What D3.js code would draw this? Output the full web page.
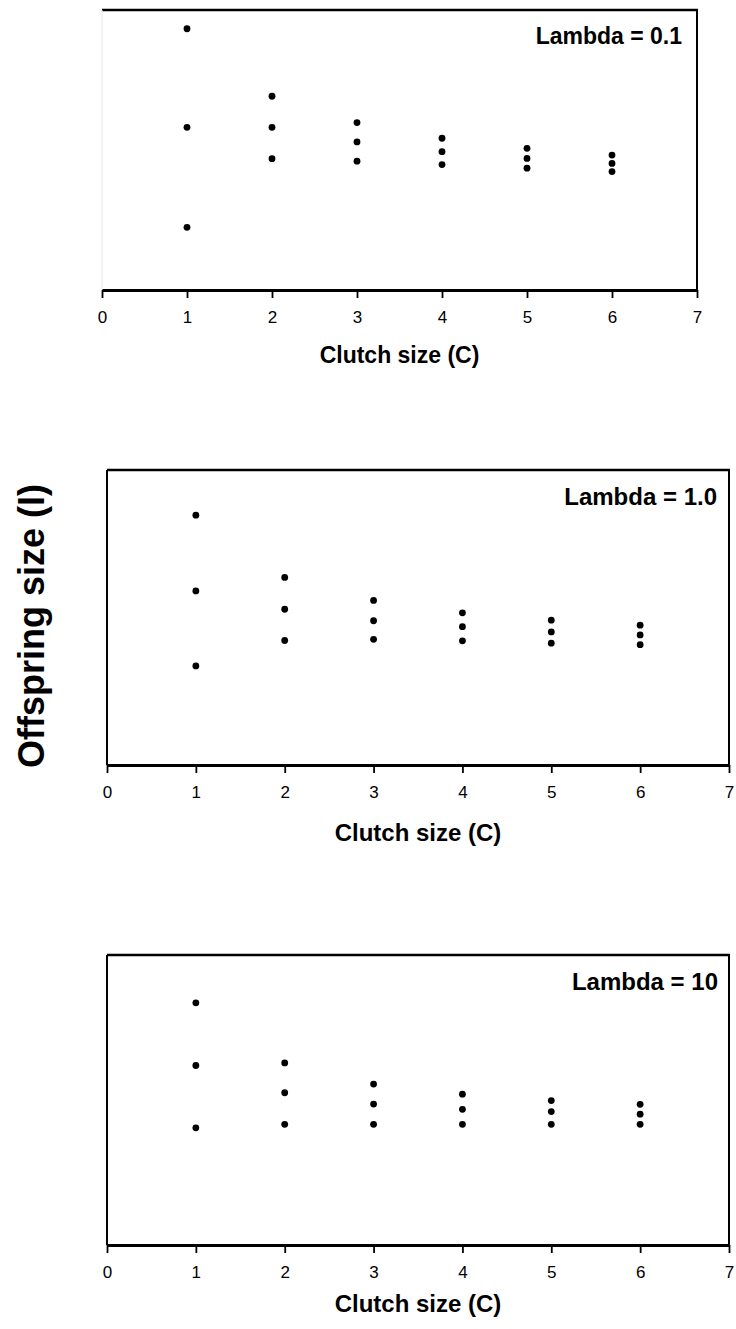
<!DOCTYPE html>
<html>
<head>
<meta charset="utf-8">
<script src="https://cdn.jsdelivr.net/npm/d3@7"></script>
<style>
    body { margin: 0; background: #fff; }
    svg text { font-family: Arial, "Liberation Sans", sans-serif; fill: #000; }
</style>
</head>
<body>
<svg id="chart" width="736" height="1329"></svg>
<script>
// clutch sizes (x) and x-axis ticks
const clutch = [1, 2, 3, 4, 5, 6];
const xTicks = [0, 1, 2, 3, 4, 5, 6, 7];

// offspring size (y axis unlabelled, 0-10 units)
const lambda01High = [9.33, 6.92, 5.98, 5.42, 5.06, 4.82];
const lambda01Mid  = [5.81, 5.81, 5.29, 4.94, 4.70, 4.52];
const lambda01Low  = [2.24, 4.69, 4.60, 4.48, 4.35, 4.23];

const lambda1High = [8.47, 6.36, 5.58, 5.16, 4.91, 4.74];
const lambda1Mid  = [5.90, 5.28, 4.89, 4.69, 4.51, 4.41];
const lambda1Low  = [3.36, 4.22, 4.26, 4.21, 4.13, 4.08];

const lambda10High = [8.35, 6.28, 5.55, 5.20, 4.98, 4.85];
const lambda10Mid  = [6.19, 5.25, 4.86, 4.68, 4.60, 4.51];
const lambda10Low  = [4.04, 4.16, 4.16, 4.16, 4.16, 4.16];

const panelLabels = ['Lambda = 0.1', 'Lambda = 1.0', 'Lambda = 10'];
const xTitle = 'Clutch size (C)';
const yTitle = 'Offspring size (I)';

const panels = [
    { label: panelLabels[0], series: [lambda01High, lambda01Mid, lambda01Low],
      left: 102, right: 697, top: 10, bottom: 290, leftColor: '#e8e8e8',
      labelSize: 23, labelPad: 15, titleSize: 23, titleGap: 65 },
    { label: panelLabels[1], series: [lambda1High, lambda1Mid, lambda1Low],
      left: 107, right: 729, top: 470, bottom: 765, leftColor: '#000',
      labelSize: 24, labelPad: 12, titleSize: 24, titleGap: 67 },
    { label: panelLabels[2], series: [lambda10High, lambda10Mid, lambda10Low],
      left: 107, right: 729, top: 955, bottom: 1245, leftColor: '#000',
      labelSize: 24, labelPad: 11, titleSize: 24, titleGap: 58 }
];

const svg = d3.select('#chart');

panels.forEach(function (p) {
    const x = d3.scaleLinear().domain([0, 7]).range([p.left, p.right]);
    const y = d3.scaleLinear().domain([0, 10]).range([p.bottom, p.top]);
    const g = svg.append('g');

    // frame: top, right, left
    g.append('line').attr('x1', p.left).attr('x2', p.right + 1)
        .attr('y1', p.top).attr('y2', p.top)
        .attr('stroke', '#000').attr('stroke-width', 2.5);
    g.append('line').attr('x1', p.right).attr('x2', p.right)
        .attr('y1', p.top).attr('y2', p.bottom)
        .attr('stroke', '#000').attr('stroke-width', 2);
    g.append('line').attr('x1', p.left).attr('x2', p.left)
        .attr('y1', p.top).attr('y2', p.bottom)
        .attr('stroke', p.leftColor).attr('stroke-width', p.leftColor === '#000' ? 2 : 1);

    // x axis
    const axis = g.append('g')
        .attr('transform', `translate(0,${p.bottom})`)
        .attr('font-size', 17)
        .attr('font-family', 'Arial, "Liberation Sans", sans-serif')
        .call(d3.axisBottom(x).tickValues(xTicks).tickFormat(d3.format('d'))
            .tickSizeInner(8).tickSizeOuter(0).tickPadding(13));
    axis.attr('font-size', 17);
    axis.select('.domain').attr('stroke', '#000').attr('stroke-width', 3.2);
    axis.selectAll('.tick line').attr('stroke', '#000').attr('stroke-width', 1.8);
    axis.selectAll('.tick text')
        .style('font-size', '17px')
        .attr('fill', '#000');

    // points
    p.series.forEach(function (vals) {
        g.selectAll(null)
            .data(clutch.map((c, i) => ({ c: c, v: vals[i] })))
            .enter()
            .append('circle')
            .attr('cx', d => x(d.c))
            .attr('cy', d => y(d.v))
            .attr('r', 3.4)
            .attr('fill', '#000');
    });

    // panel label
    g.append('text')
        .attr('x', p.right - p.labelPad)
        .attr('y', p.top + 26 + p.labelSize * 0.36)
        .attr('text-anchor', 'end')
        .style('font-size', p.labelSize + 'px')
        .style('font-weight', 'bold')
        .text(p.label);

    // x title
    g.append('text')
        .attr('x', (p.left + p.right) / 2)
        .attr('y', p.bottom + p.titleGap + p.titleSize * 0.36)
        .attr('text-anchor', 'middle')
        .style('font-size', p.titleSize + 'px')
        .style('font-weight', 'bold')
        .text(xTitle);
});

// shared y title
svg.append('text')
    .attr('transform', 'translate(44,626) rotate(-90)')
    .attr('text-anchor', 'middle')
    .style('font-size', '36px')
    .style('font-weight', 'bold')
    .text(yTitle);
</script>
</body>
</html>
